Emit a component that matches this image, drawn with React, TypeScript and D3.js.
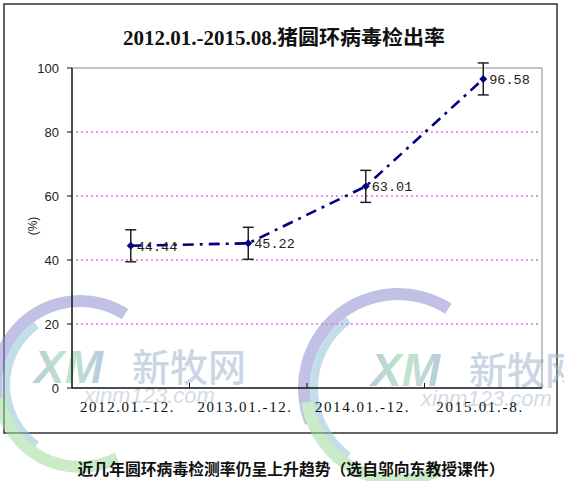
import React from "react";
import * as d3 from "d3";

const categories = ["2012.01.-12.", "2013.01.-12.", "2014.01.-12.", "2015.01.-8."];
const rates = [44.44, 45.22, 63.01, 96.58];
const errors = [5, 5, 5, 5];
const rateLabels = ["44.44", "45.22", "63.01", "96.58"];
const yTicks = [0, 20, 40, 60, 80, 100];
const gridValues = [20, 40, 60, 80];
const title = "2012.01.-2015.08.猪圆环病毒检出率";
const yLabel = "(%)";
const caption = "近几年圆环病毒检测率仍呈上升趋势（选自邬向东教授课件）";

const W = 564;
const H = 481;
const plot = { left: 72, right: 542, top: 68, bottom: 388 };

function Logo({ cx, cy, r, textX, id }: { cx: number; cy: number; r: number; textX: number; id: string }) {
  const blue = d3.arc()({ innerRadius: r - 12, outerRadius: r, startAngle: -Math.PI * 0.62, endAngle: Math.PI * 0.18 } as any) || "";
  const teal = d3.arc()({ innerRadius: r - 20, outerRadius: r - 12, startAngle: -Math.PI * 0.8, endAngle: -Math.PI * 0.2 } as any) || "";
  const green = d3.arc()({ innerRadius: r - 14, outerRadius: r - 2, startAngle: Math.PI * 0.85, endAngle: Math.PI * 1.45 } as any) || "";
  return (
    <g opacity={0.55}>
      <g transform={`translate(${cx},${cy})`}>
        <path d={blue} fill="#8d8fd0" />
        <path d={teal} fill="#8fc4d8" />
        <path d={green} fill="#9fdc9a" />
      </g>
      <text x={textX} y={cy - 2} fontFamily="'Liberation Sans', Arial" fontStyle="italic" fontWeight={700} fontSize={46} fill={`url(#${id})`}>XM</text>
      <text x={textX + 98} y={cy - 4} fontFamily="'Noto Sans CJK SC'" fontWeight={500} fontSize={38} fill="#9fb6cf">新牧网</text>
      <text x={textX + 50} y={cy + 18} fontFamily="'Liberation Sans', Arial" fontStyle="italic" fontSize={22} fill="#aebfd3">xinm123.com</text>
    </g>
  );
}

export default function App() {
  const x = d3.scaleBand<string>().domain(categories).range([plot.left, plot.right]);
  const y = d3.scaleLinear().domain([0, 100]).range([plot.bottom, plot.top]);
  const cxOf = (c: string) => (x(c) as number) + x.bandwidth() / 2;

  const points = categories.map((c, i) => ({ c, v: rates[i], e: errors[i], label: rateLabels[i] }));
  const line = d3
    .line<{ c: string; v: number }>()
    .x((d) => cxOf(d.c))
    .y((d) => y(d.v))
    .curve(d3.curveLinear);
  const sym = (d3 as any).symbolDiamond2 || d3.symbolDiamond;
  const diamond = d3.symbol().type(sym).size(40)() || "";

  return (
    <svg width={W} height={H} style={{ position: "absolute", left: 0, top: 0, background: "#fff" }}>
      <defs>
        <linearGradient id="xm1" x1="0" x2="1" y1="0" y2="0">
          <stop offset="0" stopColor="#7f9fc9" />
          <stop offset="0.5" stopColor="#8fd39a" />
          <stop offset="1" stopColor="#7f9fc9" />
        </linearGradient>
      </defs>
      <rect x={0} y={0} width={W} height={H} fill="#fff" />
      <rect x={4} y={4} width={553} height={429} fill="none" stroke="#333" strokeWidth={1.5} />

      {/* watermark */}
      <Logo cx={80} cy={385} r={90} textX={34} id="xm1" />
      <Logo cx={398} cy={388} r={100} textX={371} id="xm1" />

      <text x={284} y={45} textAnchor="middle" fontFamily="'Liberation Serif', 'Noto Sans CJK SC'" fontWeight={700} fontSize={20} fill="#111" textLength={322} lengthAdjust="spacingAndGlyphs">{title}</text>

      {/* grid */}
      {gridValues.map((g) => (
        <line key={g} x1={plot.left + 4} x2={plot.right - 3} y1={y(g)} y2={y(g)} stroke="#e070e0" strokeWidth={1.3} strokeDasharray="2,3" />
      ))}

      {/* plot border top/right */}
      <line x1={plot.left} x2={plot.right} y1={plot.top} y2={plot.top} stroke="#888" strokeWidth={1} />
      <line x1={plot.right} x2={plot.right} y1={plot.top} y2={plot.bottom} stroke="#888" strokeWidth={1} />

      {/* axes */}
      <line x1={plot.left} x2={plot.left} y1={plot.top} y2={plot.bottom} stroke="#111" strokeWidth={1.5} />
      <line x1={plot.left} x2={plot.right} y1={plot.bottom} y2={plot.bottom} stroke="#111" strokeWidth={1.5} />
      {yTicks.map((t) => (
        <g key={t}>
          <line x1={plot.left - 5} x2={plot.left} y1={y(t)} y2={y(t)} stroke="#111" strokeWidth={1} />
          <text x={59} y={y(t)} dy="0.35em" textAnchor="end" fontFamily="'Liberation Sans', Arial" fontSize={13} fill="#222">{t}</text>
        </g>
      ))}
      {categories.slice(1).map((c) => (
        <line key={c} x1={x(c) as number} x2={x(c) as number} y1={plot.bottom} y2={plot.bottom - 5} stroke="#111" strokeWidth={1} />
      ))}
      {categories.map((c) => (
        <text key={c} x={cxOf(c) - 4} y={412} textAnchor="middle" fontFamily="'Liberation Serif'" fontSize={15} fill="#111" textLength={c.length * 7.8} lengthAdjust="spacing">{c}</text>
      ))}
      <text transform="translate(37,226) rotate(-90)" textAnchor="middle" fontFamily="'Liberation Sans', Arial" fontSize={12} fill="#222">{yLabel}</text>

      {/* series */}
      <path d={line(points) || ""} fill="none" stroke="#000080" strokeWidth={2.6} strokeDasharray="11,6,3,6" />
      {points.map((p) => {
        const px = cxOf(p.c);
        return (
          <g key={p.c}>
            <line x1={px} x2={px} y1={y(p.v + p.e)} y2={y(p.v - p.e)} stroke="#222" strokeWidth={1.5} />
            <line x1={px - 5.5} x2={px + 5.5} y1={y(p.v + p.e)} y2={y(p.v + p.e)} stroke="#222" strokeWidth={1.5} />
            <line x1={px - 5.5} x2={px + 5.5} y1={y(p.v - p.e)} y2={y(p.v - p.e)} stroke="#222" strokeWidth={1.5} />
            <path d={diamond} transform={`translate(${px},${y(p.v)})`} fill="#000080" />
            <text x={px + 6} y={y(p.v)} dy="0.36em" fontFamily="'Liberation Mono', monospace" fontSize={13.5} fill="#222">{p.label}</text>
          </g>
        );
      })}

      <text x={291} y={475} textAnchor="middle" fontFamily="'Noto Sans CJK SC'" fontWeight={700} fontSize={15.5} fill="#111" textLength={427} lengthAdjust="spacingAndGlyphs">{caption}</text>
    </svg>
  );
}
